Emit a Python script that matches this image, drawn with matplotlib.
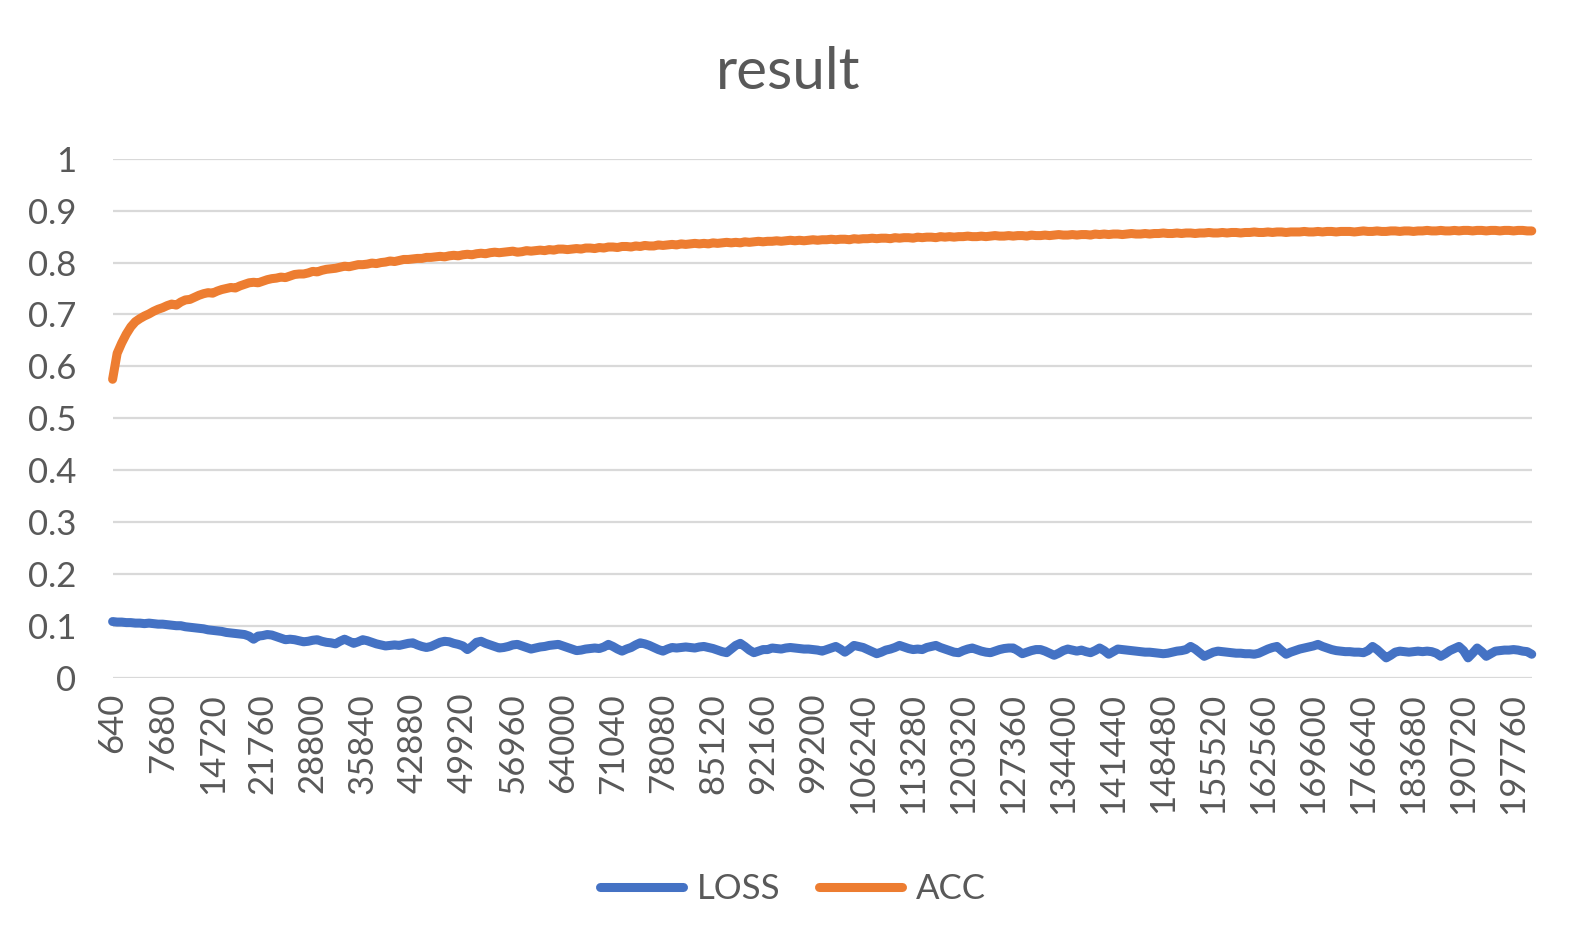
import matplotlib
matplotlib.use("Agg")
import matplotlib.pyplot as plt

# step values on the x axis (640 per step)
steps = [640 * (k + 1) for k in range(313)]

loss = [
    0.108, 0.107, 0.107, 0.106, 0.106, 0.105, 0.105, 0.104, 0.105, 0.104,
    0.103, 0.103, 0.102, 0.101, 0.100, 0.100, 0.098, 0.097, 0.096, 0.095,
    0.094, 0.092, 0.091, 0.090, 0.089, 0.087, 0.086, 0.085, 0.084, 0.083,
    0.080, 0.074, 0.080, 0.081, 0.083, 0.082, 0.079, 0.076, 0.073, 0.074,
    0.073, 0.071, 0.069, 0.070, 0.072, 0.073, 0.070, 0.068, 0.067, 0.065,
    0.070, 0.074, 0.070, 0.066, 0.069, 0.073, 0.071, 0.068, 0.065, 0.063,
    0.061, 0.062, 0.063, 0.062, 0.064, 0.066, 0.067, 0.063, 0.060, 0.058,
    0.060, 0.064, 0.068, 0.070, 0.069, 0.066, 0.064, 0.061, 0.054, 0.060,
    0.068, 0.070, 0.066, 0.063, 0.060, 0.057, 0.058, 0.060, 0.063, 0.064,
    0.061, 0.058, 0.055, 0.057, 0.059, 0.060, 0.062, 0.063, 0.064, 0.061,
    0.058, 0.055, 0.052, 0.053, 0.055, 0.056, 0.057, 0.056, 0.059, 0.064,
    0.060, 0.055, 0.051, 0.055, 0.058, 0.063, 0.067, 0.065, 0.062, 0.058,
    0.054, 0.051, 0.055, 0.058, 0.057, 0.058, 0.059, 0.058, 0.057, 0.059,
    0.060, 0.058, 0.056, 0.053, 0.050, 0.048, 0.055, 0.062, 0.066, 0.060,
    0.053, 0.048, 0.051, 0.054, 0.054, 0.057, 0.056, 0.055, 0.057, 0.058,
    0.057, 0.056, 0.055, 0.055, 0.054, 0.053, 0.051, 0.054, 0.057, 0.060,
    0.055, 0.049, 0.055, 0.062, 0.060, 0.058, 0.054, 0.050, 0.046, 0.049,
    0.053, 0.055, 0.058, 0.062, 0.059, 0.056, 0.054, 0.055, 0.054, 0.058,
    0.060, 0.062, 0.058, 0.055, 0.052, 0.049, 0.048, 0.052, 0.055, 0.057,
    0.054, 0.051, 0.049, 0.048, 0.051, 0.054, 0.056, 0.057, 0.057, 0.052,
    0.046, 0.049, 0.052, 0.054, 0.054, 0.051, 0.047, 0.043, 0.047, 0.052,
    0.055, 0.053, 0.051, 0.053, 0.050, 0.048, 0.052, 0.057, 0.052, 0.045,
    0.050, 0.055, 0.054, 0.053, 0.052, 0.051, 0.050, 0.049, 0.049, 0.048,
    0.047, 0.046, 0.047, 0.049, 0.051, 0.052, 0.054, 0.060, 0.055, 0.048,
    0.041, 0.045, 0.049, 0.051, 0.050, 0.049, 0.048, 0.047, 0.047, 0.046,
    0.046, 0.045, 0.047, 0.051, 0.055, 0.058, 0.060, 0.052, 0.045, 0.049,
    0.052, 0.055, 0.057, 0.059, 0.061, 0.064, 0.060, 0.057, 0.054, 0.052,
    0.051, 0.050, 0.050, 0.049, 0.049, 0.048, 0.052, 0.060, 0.054, 0.046,
    0.038, 0.043, 0.049, 0.051, 0.050, 0.049, 0.050, 0.051, 0.050, 0.051,
    0.050, 0.047, 0.041, 0.046, 0.052, 0.056, 0.060, 0.052, 0.038, 0.047,
    0.057, 0.050, 0.041, 0.046, 0.051, 0.052, 0.053, 0.053, 0.054, 0.053,
    0.051, 0.050, 0.045,
]

acc = [
    0.575, 0.625, 0.645, 0.662, 0.676, 0.686, 0.692, 0.697, 0.701, 0.706,
    0.710, 0.713, 0.717, 0.720, 0.718, 0.724, 0.728, 0.729, 0.733, 0.737,
    0.740, 0.742, 0.741, 0.745, 0.748, 0.750, 0.752, 0.751, 0.755, 0.758,
    0.761, 0.762, 0.761, 0.764, 0.767, 0.769, 0.770, 0.772, 0.771, 0.774,
    0.777, 0.778, 0.778, 0.780, 0.783, 0.782, 0.785, 0.787, 0.788, 0.789,
    0.791, 0.793, 0.792, 0.794, 0.796, 0.796, 0.797, 0.799, 0.798, 0.800,
    0.801, 0.803, 0.802, 0.804, 0.806, 0.806, 0.807, 0.808, 0.808, 0.810,
    0.810, 0.811, 0.812, 0.811, 0.813, 0.814, 0.813, 0.815, 0.816, 0.815,
    0.817, 0.818, 0.817, 0.819, 0.820, 0.819, 0.820, 0.821, 0.822, 0.820,
    0.821, 0.823, 0.822, 0.823, 0.824, 0.823, 0.825, 0.824, 0.826, 0.826,
    0.825, 0.826, 0.827, 0.826, 0.828, 0.828, 0.827, 0.829, 0.828, 0.830,
    0.830, 0.829, 0.831, 0.831, 0.830, 0.832, 0.831, 0.833, 0.832, 0.832,
    0.834, 0.833, 0.834, 0.835, 0.834, 0.836, 0.835, 0.836, 0.837, 0.836,
    0.837, 0.836, 0.838, 0.837, 0.838, 0.839, 0.838, 0.839, 0.838, 0.840,
    0.839, 0.840, 0.841, 0.840, 0.841, 0.841, 0.842, 0.841, 0.842, 0.843,
    0.842, 0.843, 0.842, 0.843, 0.844, 0.843, 0.844, 0.844, 0.845, 0.844,
    0.845, 0.845, 0.844, 0.846, 0.845, 0.846, 0.846, 0.847, 0.846, 0.847,
    0.847, 0.846, 0.848, 0.847, 0.848, 0.848, 0.847, 0.849, 0.848, 0.849,
    0.849, 0.848, 0.850, 0.849, 0.850, 0.849, 0.850, 0.850, 0.851, 0.850,
    0.850, 0.851, 0.850, 0.851, 0.852, 0.851, 0.851, 0.852, 0.851, 0.852,
    0.852, 0.851, 0.853, 0.852, 0.852, 0.853, 0.852, 0.853, 0.854, 0.853,
    0.853, 0.854, 0.853, 0.854, 0.854, 0.853, 0.855, 0.854, 0.855, 0.854,
    0.855, 0.855, 0.854, 0.855, 0.856, 0.855, 0.855, 0.856, 0.855, 0.856,
    0.856, 0.857, 0.856, 0.856, 0.857, 0.856, 0.857, 0.857, 0.856, 0.857,
    0.857, 0.858, 0.857, 0.857, 0.858, 0.857, 0.858, 0.858, 0.857, 0.858,
    0.858, 0.859, 0.858, 0.858, 0.859, 0.858, 0.859, 0.859, 0.858, 0.859,
    0.859, 0.859, 0.860, 0.859, 0.859, 0.860, 0.859, 0.860, 0.860, 0.859,
    0.860, 0.860, 0.860, 0.859, 0.860, 0.861, 0.860, 0.860, 0.861, 0.860,
    0.860, 0.861, 0.861, 0.860, 0.861, 0.861, 0.860, 0.861, 0.861, 0.862,
    0.861, 0.861, 0.862, 0.861, 0.861, 0.862, 0.861, 0.862, 0.862, 0.861,
    0.862, 0.862, 0.861, 0.862, 0.862, 0.861, 0.862, 0.862, 0.861, 0.862,
    0.862, 0.861, 0.861,
]

y_ticks = [0, 0.1, 0.2, 0.3, 0.4, 0.5, 0.6, 0.7, 0.8, 0.9, 1]
y_labels = ["0", "0.1", "0.2", "0.3", "0.4", "0.5", "0.6", "0.7", "0.8", "0.9", "1"]

plt.rcParams["font.family"] = ["Lato", "DejaVu Sans"]
text_col = "#595959"

fig = plt.figure(figsize=(15.77, 9.51), dpi=100)
ax = fig.add_axes([0.0714, 0.2875, 0.8999, 0.5455])

x = list(range(len(steps)))
ax.plot(x, loss, color="#4472C4", lw=6.5, solid_capstyle="round",
        solid_joinstyle="round", label="LOSS", clip_on=False, zorder=3)
ax.plot(x, acc, color="#ED7D31", lw=6.5, solid_capstyle="round",
        solid_joinstyle="round", label="ACC", clip_on=False, zorder=3)

ax.set_xlim(0, len(steps) - 1)
ax.set_ylim(0, 1)
ax.set_yticks(y_ticks)
ax.set_yticklabels(y_labels)
tick_pos = x[::11]
ax.set_xticks(tick_pos)
ax.set_xticklabels([str(steps[i]) for i in tick_pos], rotation=90)

ax.grid(axis="y", color="#D9D9D9", lw=1.6)
ax.set_axisbelow(True)
for s in ax.spines.values():
    s.set_visible(False)
ax.tick_params(axis="both", length=0, labelsize=25, labelcolor=text_col)
ax.tick_params(axis="y", pad=26)
ax.tick_params(axis="x", pad=11)

fig.text(0.5, 0.924, "result", ha="center", va="center", fontsize=42, color=text_col)

fig.legend(loc="center", bbox_to_anchor=(0.503, 0.0655), ncol=2, frameon=False,
           fontsize=25, handlelength=2.4, handletextpad=0.4, columnspacing=1.1,
           labelcolor=text_col)

fig.savefig("out.png", dpi=100)
